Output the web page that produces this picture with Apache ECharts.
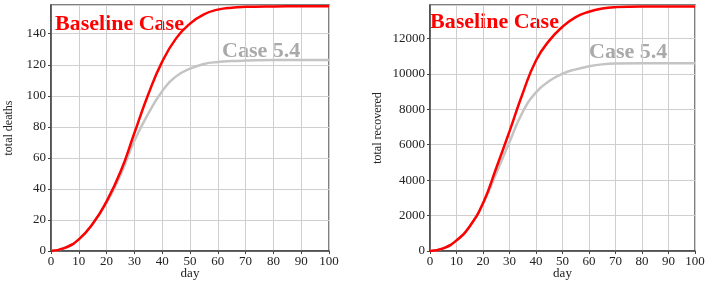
<!DOCTYPE html>
<html><head><meta charset="utf-8">
<script src="https://cdn.jsdelivr.net/npm/echarts@6/dist/echarts.min.js"></script>
<style>html,body{margin:0;padding:0;background:#fff}#c{width:709px;height:283px}</style>
</head><body><div id="c"></div>
<script>
const days = [0,5,10,15,20,25,30,35,40,45,50,55,60,65,70,80,90,100];
const deathsBaseline = [0,2,7.5,17.5,32,51,76,101,122,137,146.5,152.5,155.5,156.8,157.3,157.6,157.7,157.7];
const deathsCase54   = [0,2,7.5,17.5,31,49,71,88.5,103,112.5,117.5,120.5,121.8,122.4,122.7,123,123,123];
const recBaseline = [0,150,600,1400,2700,4680,6750,8900,10750,11870,12650,13200,13500,13680,13760,13800,13800,13800];
const recCase54   = [0,150,600,1380,2650,4380,6150,7850,8950,9590,10000,10250,10420,10530,10580,10600,10600,10600];
const xTicks = [0,10,20,30,40,50,60,70,80,90,100];

const serif = '"Liberation Serif","DejaVu Serif",serif';
const pair = (xs, ys) => xs.map((x,i)=>[x, ys[i]]);

function xAxis(gi){
  return {type:'value', gridIndex:gi, min:0, max:100, interval:10, name:'day', nameLocation:'middle', nameGap:16, nameMoveOverlap:false,
    nameTextStyle:{fontFamily:serif, fontSize:13, color:'#222'},
    axisLine:{show:true, onZero:false, lineStyle:{color:'#444', width:1.5}},
    axisTick:{show:true, length:3, lineStyle:{color:'#444'}},
    axisLabel:{fontFamily:serif, fontSize:13, color:'#222', margin:4},
    splitLine:{show:true, lineStyle:{color:'#cfcfcf', width:1}}};
}
function yAxis(gi, max, interval, name){
  return {type:'value', gridIndex:gi, min:0, max:max, interval:interval, name:name, nameLocation:'middle', nameGap: gi===0?36:46, nameMoveOverlap:false,
    nameTextStyle:{fontFamily:serif, fontSize:12, color:'#222'},
    axisLine:{show:true, onZero:false, lineStyle:{color:'#444', width:1.5}},
    axisTick:{show:true, length:3, lineStyle:{color:'#444'}},
    axisLabel:{fontFamily:serif, fontSize:13, color:'#222', margin:5, showMaxLabel:false, formatter:v=>String(v)},
    splitLine:{show:true, lineStyle:{color:'#cfcfcf', width:1}}};
}
function line(gi, data, color){
  return {type:'line', xAxisIndex:gi, yAxisIndex:gi, data:data, smooth:0.5, symbol:'none',
    lineStyle:{color:color, width:2.5}, z: color==='#ff0000'?3:2};
}

const chart = echarts.init(document.getElementById('c'), null, {renderer:'canvas'});
chart.setOption({
  animation:false,
  grid:[
    {left:51, right:380, top:5, bottom:32, show:true, borderColor:'#555', borderWidth:1.5, containLabel:false, outerBoundsMode:'none'},
    {left:430, right:14, top:5, bottom:32, show:true, borderColor:'#555', borderWidth:1.5, containLabel:false, outerBoundsMode:'none'}
  ],
  xAxis:[xAxis(0), xAxis(1)],
  yAxis:[yAxis(0, 158.5, 20, 'total deaths'), yAxis(1, 13880, 2000, 'total recovered')],
  series:[
    line(0, pair(days, deathsCase54), '#c4c4c4'),
    line(0, pair(days, deathsBaseline), '#ff0000'),
    line(1, pair(days, recCase54), '#c4c4c4'),
    line(1, pair(days, recBaseline), '#ff0000')
  ],
  graphic:[
    {type:'text', left:55, top:13, style:{text:'Baseline Case', font:'bold 22px '+serif, fill:'#ff0000'}},
    {type:'text', left:222, top:40, style:{text:'Case 5.4', font:'bold 22px '+serif, fill:'#a9a9a9'}},
    {type:'text', left:430, top:11, style:{text:'Baseline Case', font:'bold 22px '+serif, fill:'#ff0000'}},
    {type:'text', left:589, top:41, style:{text:'Case 5.4', font:'bold 22px '+serif, fill:'#a9a9a9'}}
  ]
});
</script></body></html>
